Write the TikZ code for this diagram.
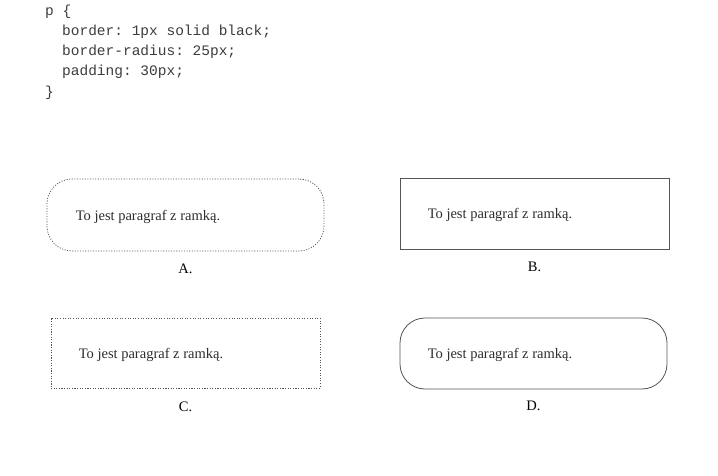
\documentclass[tikz,border=0pt]{standalone}
\usepackage{fontspec}
\setmainfont{Liberation Serif}
\setmonofont{Liberation Mono}
\usepackage{tikz}
\usetikzlibrary{positioning}
\definecolor{codegray}{RGB}{60,60,60}
\definecolor{textgray}{RGB}{45,45,45}
\definecolor{framegray}{RGB}{85,85,85}

\begin{document}
\begin{tikzpicture}[x=1pt, y=-1pt]
\tikzset{
    codeline/.style={anchor=west, inner sep=0pt, text=codegray, font=\fontsize{14.5}{20}\selectfont\ttfamily},
    framebox/.style={minimum width=#1, minimum height=71pt, inner sep=0pt},
    dottedframe/.style={draw=framegray, line width=0.75pt, dash pattern=on 1.1pt off 1.5pt},
    solidframe/.style={draw=framegray, line width=0.8pt},
    paratext/.style={anchor=west, inner sep=0pt, yshift=-1.5pt, text=textgray, font=\fontsize{14.5}{17}\selectfont},
    answer/.style={inner sep=0pt, font=\fontsize{14.5}{17}\selectfont}
}
\useasboundingbox (0,0) rectangle (718,476);

% Kod CSS
\node[codeline] (l1) at (45,12) {p \{};
\node[codeline] (l2) at (62,32) {border: 1px solid black;};
\node[codeline] (l3) at (62,52) {border-radius: 25px;};
\node[codeline] (l4) at (62,72) {padding: 30px;};
\node[codeline] (l5) at (45,93) {\}};

% A. ramka kropkowana zaokraglona
\node[framebox=277pt, dottedframe, rounded corners=25pt, minimum height=72pt] (boxA) at (185.5,215) {};
\node[paratext, right=29pt of boxA.west] (txtA) {To jest paragraf z ramką.};
\node[answer, below=12pt of boxA] (labA) {A.};

% B. ramka ciagla prostokatna
\node[framebox=269pt, solidframe] (boxB) at (534.5,213.5) {};
\node[paratext, right=28pt of boxB.west] (txtB) {To jest paragraf z ramką.};
\node[answer, below=12pt of boxB] (labB) {B.};

% C. ramka kropkowana prostokatna
\node[framebox=269pt, dottedframe, minimum height=70pt] (boxC) at (185.5,353) {};
\node[paratext, right=28pt of boxC.west] (txtC) {To jest paragraf z ramką.};
\node[answer, below=13pt of boxC] (labC) {C.};

% D. ramka ciagla zaokraglona
\node[framebox=267pt, solidframe, rounded corners=25pt] (boxD) at (533.5,353.5) {};
\node[paratext, right=28pt of boxD.west] (txtD) {To jest paragraf z ramką.};
\node[answer, below=11pt of boxD] (labD) {D.};

\end{tikzpicture}
\end{document}
